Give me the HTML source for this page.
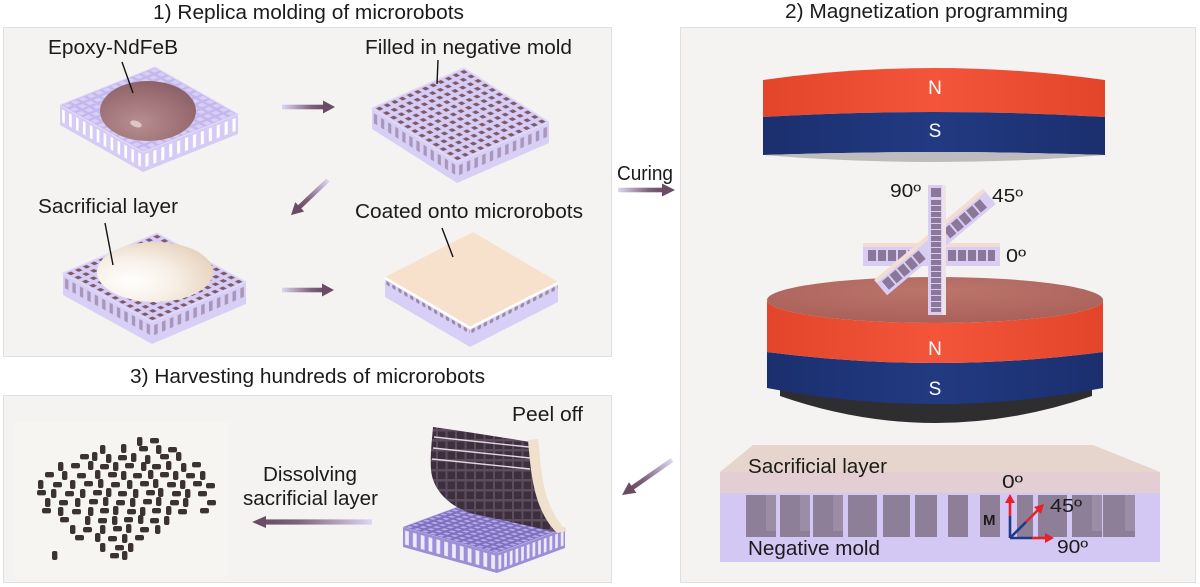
<!DOCTYPE html>
<html><head><meta charset="utf-8"><style>
html,body{margin:0;padding:0;background:#fff;}
svg{display:block;}
text{font-family:"Liberation Sans",Arial,sans-serif;fill:#1b1b1b;}
</style></head><body>
<svg width="1200" height="587" viewBox="0 0 1200 587" xmlns="http://www.w3.org/2000/svg">
<defs>
 <linearGradient id="arr" x1="0" y1="0" x2="1" y2="0">
  <stop offset="0" stop-color="#ddd6f3"/><stop offset="0.7" stop-color="#7d6079"/><stop offset="1" stop-color="#6a4d65"/>
 </linearGradient>
 <radialGradient id="epoxy" cx="0.4" cy="0.7" r="0.7">
  <stop offset="0" stop-color="#b88e91"/><stop offset="0.6" stop-color="#9f7377"/><stop offset="1" stop-color="#8e6368"/>
 </radialGradient>
 <radialGradient id="sacr" cx="0.3" cy="0.65" r="0.75">
  <stop offset="0" stop-color="#ffffff"/><stop offset="0.5" stop-color="#f7efe6"/><stop offset="1" stop-color="#e6d3bd"/>
 </radialGradient>
 <linearGradient id="red" x1="0" y1="0" x2="1" y2="0">
  <stop offset="0" stop-color="#e2452a"/><stop offset="0.5" stop-color="#f4553a"/><stop offset="1" stop-color="#e2452a"/>
 </linearGradient>
 <linearGradient id="blue" x1="0" y1="0" x2="1" y2="0">
  <stop offset="0" stop-color="#1b2f6e"/><stop offset="0.5" stop-color="#223a82"/><stop offset="1" stop-color="#1b2f6e"/>
 </linearGradient>
 <radialGradient id="topface" cx="0.5" cy="0.3" r="0.7">
  <stop offset="0" stop-color="#bc756b"/><stop offset="1" stop-color="#a9615a"/>
 </radialGradient>
 <pattern id="g1" width="8.333" height="8.333" patternUnits="userSpaceOnUse">
  <rect width="8.333" height="8.333" fill="#c4b7ee"/><rect x="1.6" y="1.6" width="5.2" height="5.2" fill="#d8cff6"/>
 </pattern>
 <pattern id="g2" width="8.333" height="8.333" patternUnits="userSpaceOnUse">
  <rect width="8.333" height="8.333" fill="#d6ccf5"/><rect x="2.2" y="2.2" width="4.2" height="4.2" fill="#7e5966"/>
 </pattern>
 <pattern id="g3" width="8.333" height="8.333" patternUnits="userSpaceOnUse">
  <rect width="8.333" height="8.333" fill="#7f6fbf"/><rect x="1.8" y="1.8" width="4.8" height="4.8" fill="#b5a9e8"/>
 </pattern>
 <pattern id="s1" width="8.333" height="100" patternUnits="userSpaceOnUse">
  <rect width="8.333" height="100" fill="#d5cbf5"/><rect x="2.6" y="3" width="3.2" height="13" fill="#ffffff"/>
 </pattern>
 <pattern id="s2" width="8.333" height="100" patternUnits="userSpaceOnUse">
  <rect width="8.333" height="100" fill="#d8cff6"/><rect x="2.3" y="4" width="3.8" height="10" fill="#a897b8"/>
 </pattern>
 <pattern id="s4" width="7" height="100" patternUnits="userSpaceOnUse">
  <rect width="7" height="100" fill="#d8cff6"/><rect x="1.5" y="3" width="4" height="4" rx="1.5" fill="#9d8aa8"/>
 </pattern>
 <pattern id="s3" width="8.333" height="100" patternUnits="userSpaceOnUse">
  <rect width="8.333" height="100" fill="#9d8fd6"/><rect x="2.2" y="3" width="4" height="14" fill="#eeeafb"/>
 </pattern>
 <pattern id="cubes" width="9.5" height="10" patternUnits="userSpaceOnUse">
  <rect width="9.5" height="10" fill="#5c4c5d"/><rect x="1" y="1.5" width="7.5" height="7.5" fill="#3d2f3e"/>
 </pattern>
 <rect id="ph" width="9" height="5.4" rx="2" fill="#3b3234"/>
 <rect id="pv" width="5.4" height="9" rx="2" fill="#3b3234"/>
</defs>

<rect width="1200" height="587" fill="#ffffff"/>

<!-- Panels -->
<rect x="3.5" y="27.5" width="608" height="329" fill="#f4f3f1" stroke="#e2e0de"/>
<rect x="680.5" y="27.5" width="515" height="555" fill="#f4f3f1" stroke="#e2e0de"/>
<rect x="3.5" y="395.5" width="608" height="187" fill="#f4f3f1" stroke="#e2e0de"/>

<!-- Titles -->
<text x="153" y="19" font-size="20" textLength="311" lengthAdjust="spacingAndGlyphs">1) Replica molding of microrobots</text>
<text x="785" y="18" font-size="20" textLength="283" lengthAdjust="spacingAndGlyphs">2) Magnetization programming</text>
<text x="130" y="383" font-size="20" textLength="355" lengthAdjust="spacingAndGlyphs">3) Harvesting hundreds of microrobots</text>

<!-- ===== Panel 1 ===== -->
<g>
 <g transform="matrix(0.83,0.47,0,1,60,105)"><rect width="100" height="20" fill="url(#s1)"/></g>
 <g transform="matrix(0.95,-0.38,0,1,143,152)"><rect width="100" height="20" fill="url(#s1)"/></g>
 <g transform="matrix(0.95,-0.38,0.83,0.47,60,105)"><rect width="100" height="100" fill="url(#g1)" stroke="#e3dcf8" stroke-width="1.5"/></g>
 <ellipse cx="148" cy="111" rx="48" ry="30" fill="url(#epoxy)"/>
 <ellipse cx="136" cy="124" rx="6" ry="3" fill="#e8d6d6" opacity="0.8" transform="rotate(20 136 124)"/>
</g>
<text x="48" y="54" font-size="20" textLength="130" lengthAdjust="spacingAndGlyphs">Epoxy-NdFeB</text>
<line x1="122" y1="62" x2="133" y2="93" stroke="#111" stroke-width="1.4"/>

<g transform="translate(282,107)"><rect x="0" y="-2.3" width="43" height="4.6" fill="url(#arr)"/><path d="M41,-6.5 L53,0 L41,6.5 Z" fill="#6a4d65"/></g>

<g>
 <g transform="matrix(0.85,0.54,0,1,372,108)"><rect width="100" height="21" fill="url(#s2)"/></g>
 <g transform="matrix(0.92,-0.40,0,1,457,162)"><rect width="100" height="21" fill="url(#s2)"/></g>
 <g transform="matrix(0.92,-0.40,0.85,0.54,372,108)"><rect width="100" height="100" fill="url(#g2)" stroke="#e3dcf8" stroke-width="1.5"/></g>
</g>
<text x="365" y="54" font-size="20" textLength="207" lengthAdjust="spacingAndGlyphs">Filled in negative mold</text>
<line x1="438" y1="60" x2="437" y2="84" stroke="#111" stroke-width="1.4"/>

<g transform="translate(328,180) rotate(136.5)"><rect x="0" y="-2.3" width="41" height="4.6" fill="url(#arr)"/><path d="M39,-6.5 L51,0 L39,6.5 Z" fill="#6a4d65"/></g>

<g>
 <g transform="matrix(0.89,0.49,0,1,63,273)"><rect width="100" height="22" fill="url(#s2)"/></g>
 <g transform="matrix(0.94,-0.40,0,1,152,322)"><rect width="100" height="22" fill="url(#s2)"/></g>
 <g transform="matrix(0.94,-0.40,0.89,0.49,63,273)"><rect width="100" height="100" fill="url(#g2)" stroke="#e3dcf8" stroke-width="1.5"/></g>
 <ellipse cx="155" cy="272" rx="58" ry="30" fill="url(#sacr)"/>
</g>
<text x="38" y="213" font-size="20" textLength="140" lengthAdjust="spacingAndGlyphs">Sacrificial layer</text>
<line x1="105" y1="223" x2="113" y2="265" stroke="#111" stroke-width="1.4"/>

<g transform="translate(282,290)"><rect x="0" y="-2.3" width="42" height="4.6" fill="url(#arr)"/><path d="M40,-6.5 L52,0 L40,6.5 Z" fill="#6a4d65"/></g>

<g>
 <g transform="matrix(0.85,0.50,0,1,385,277)"><rect width="100" height="20" fill="url(#s4)"/></g>
 <g transform="matrix(0.88,-0.45,0,1,470,327)"><rect width="100" height="20" fill="url(#s4)"/></g>
 <polygon points="385,277 473,232 558,282 470,327" fill="#f7e1cd"/>
 <polyline points="385,278 470,328 558,283" fill="none" stroke="#ffffff" stroke-width="2.5"/>
</g>
<text x="355" y="218" font-size="20" textLength="228" lengthAdjust="spacingAndGlyphs">Coated onto microrobots</text>
<line x1="442" y1="228" x2="453" y2="257" stroke="#111" stroke-width="1.4"/>

<text x="617" y="180" font-size="20" textLength="56" lengthAdjust="spacingAndGlyphs">Curing</text>
<g transform="translate(618,190)"><rect x="0" y="-2.3" width="45" height="4.6" fill="url(#arr)"/><path d="M44,-6.5 L57,0 L44,6.5 Z" fill="#6a4d65"/></g>

<!-- ===== Panel 2 ===== -->
<path d="M763,80 Q934,56 1105,80 L1105,117 Q934,107 763,117 Z" fill="url(#red)"/>
<path d="M763,117 Q934,107 1105,117 L1105,155 Q934,149 763,155 Z" fill="url(#blue)"/>
<path d="M763,155 Q934,149 1105,155 Q934,169 763,155 Z" fill="#bdbcbc"/>
<text x="935" y="94" font-size="19" text-anchor="middle" style="fill:#fff">N</text>
<text x="935" y="137" font-size="19" text-anchor="middle" style="fill:#fff">S</text>

<path d="M780,388 L1092,388 L1092,396 Q935,450 780,396 Z" fill="#2e2d30"/>
<path d="M767,352 Q935,374 1103,352 L1103,388 Q935,420 767,388 Z" fill="url(#blue)"/>
<path d="M767,300 A168,23 0 0 0 1103,300 L1103,352 Q935,374 767,352 Z" fill="url(#red)"/>
<ellipse cx="935" cy="300" rx="168" ry="23" fill="url(#topface)"/>
<text x="935" y="355" font-size="19" text-anchor="middle" style="fill:#fff">N</text>
<text x="935" y="395" font-size="19" text-anchor="middle" style="fill:#fff">S</text>

<g>
 <rect x="863" y="243" width="137" height="23" fill="#d9cdf4"/>
 <rect x="863" y="243" width="137" height="4" fill="#f3ddd2"/>
 <g fill="#8b7898">
  <rect x="868" y="250" width="8" height="11"/><rect x="878" y="250" width="8" height="11"/><rect x="888" y="250" width="8" height="11"/><rect x="898" y="250" width="8" height="11"/><rect x="908" y="250" width="8" height="11"/><rect x="918" y="250" width="8" height="11"/>
  <rect x="948" y="250" width="8" height="11"/><rect x="958" y="250" width="8" height="11"/><rect x="968" y="250" width="8" height="11"/><rect x="978" y="250" width="8" height="11"/><rect x="988" y="250" width="7" height="11"/>
 </g>
</g>
<g transform="translate(935,242) rotate(-40)">
 <rect x="-71" y="-10" width="142" height="20" fill="#d9cdf4"/>
 <rect x="-71" y="-10" width="142" height="4" fill="#f3ddd2"/>
 <g fill="#8b7898">
  <rect x="-66" y="-4" width="8" height="11"/><rect x="-56" y="-4" width="8" height="11"/><rect x="-46" y="-4" width="8" height="11"/><rect x="-36" y="-4" width="8" height="11"/><rect x="-26" y="-4" width="8" height="11"/>
  <rect x="14" y="-4" width="8" height="11"/><rect x="24" y="-4" width="8" height="11"/><rect x="34" y="-4" width="8" height="11"/><rect x="44" y="-4" width="8" height="11"/><rect x="54" y="-4" width="8" height="11"/>
 </g>
</g>
<g>
 <rect x="928" y="185" width="18" height="130" fill="#d9cdf4"/>
 <rect x="942" y="185" width="4" height="130" fill="#efe2e6"/>
 <g fill="#8b7898">
  <rect x="931" y="188" width="10" height="9"/><rect x="931" y="200" width="10" height="5"/><rect x="931" y="206" width="10" height="5"/><rect x="931" y="212" width="10" height="5"/><rect x="931" y="218" width="10" height="5"/><rect x="931" y="224" width="10" height="5"/><rect x="931" y="230" width="10" height="5"/><rect x="931" y="236" width="10" height="5"/><rect x="931" y="242" width="10" height="5"/><rect x="931" y="248" width="10" height="5"/><rect x="931" y="254" width="10" height="5"/><rect x="931" y="260" width="10" height="5"/><rect x="931" y="266" width="10" height="5"/><rect x="931" y="272" width="10" height="5"/><rect x="931" y="278" width="10" height="5"/><rect x="931" y="284" width="10" height="5"/><rect x="931" y="290" width="10" height="5"/><rect x="931" y="296" width="10" height="5"/><rect x="931" y="302" width="10" height="5"/><rect x="931" y="308" width="10" height="4"/>
 </g>
</g>
<text x="890" y="197" font-size="18" textLength="31" lengthAdjust="spacingAndGlyphs">90º</text>
<text x="992" y="202" font-size="18" textLength="31" lengthAdjust="spacingAndGlyphs">45º</text>
<text x="1006" y="262" font-size="18" textLength="20" lengthAdjust="spacingAndGlyphs">0º</text>

<polygon points="753,445 1093,445 1160,472 720,472" fill="#e6d5cc"/>
<rect x="720" y="472" width="440" height="21" fill="#e3cfd3"/>
<rect x="720" y="493" width="440" height="69" fill="#d3c7f3"/>
<g fill="#8e7f99">
 <rect x="746" y="495" width="30" height="42"/><rect x="780" y="495" width="30" height="42"/><rect x="813" y="495" width="30" height="42"/><rect x="848" y="495" width="29" height="42"/><rect x="883" y="495" width="27" height="42"/><rect x="915" y="495" width="22" height="42"/><rect x="948" y="495" width="20" height="42"/><rect x="980" y="495" width="20" height="42"/><rect x="1017" y="495" width="16" height="42"/><rect x="1038" y="495" width="29" height="42"/><rect x="1072" y="495" width="30" height="42"/><rect x="1103" y="495" width="32" height="42"/>
</g>
<g fill="#a394ad" opacity="0.7">
 <rect x="766" y="495" width="10" height="36"/><rect x="800" y="495" width="10" height="36"/><rect x="833" y="495" width="10" height="36"/><rect x="1092" y="495" width="10" height="36"/><rect x="1125" y="495" width="10" height="36"/>
</g>
<text x="748" y="473" font-size="20" textLength="139" lengthAdjust="spacingAndGlyphs">Sacrificial layer</text>
<text x="748" y="555" font-size="20" textLength="132" lengthAdjust="spacingAndGlyphs">Negative mold</text>
<g stroke-width="2.6" fill="none">
 <line x1="1010" y1="538" x2="1010" y2="516" stroke="#1f3a8a"/>
 <line x1="1010" y1="516" x2="1010" y2="500" stroke="#e8202a"/>
 <line x1="1010" y1="538" x2="1026" y2="522" stroke="#1f3a8a"/>
 <line x1="1026" y1="522" x2="1040" y2="508" stroke="#e8202a"/>
 <line x1="1010" y1="538" x2="1032" y2="538" stroke="#1f3a8a"/>
 <line x1="1032" y1="538" x2="1048" y2="538" stroke="#e8202a"/>
</g>
<g fill="#e8202a">
 <path d="M1010,494 L1005,503 L1015,503 Z"/>
 <path d="M1044,504 L1034,507 L1041,514 Z"/>
 <path d="M1054,538 L1045,533 L1045,543 Z"/>
</g>
<text x="983" y="525" font-size="15" font-weight="bold">M</text>
<text x="1002" y="488" font-size="18" textLength="21" lengthAdjust="spacingAndGlyphs">0º</text>
<text x="1050" y="512" font-size="18" textLength="32" lengthAdjust="spacingAndGlyphs">45º</text>
<text x="1057" y="553" font-size="18" textLength="31" lengthAdjust="spacingAndGlyphs">90º</text>

<g transform="translate(672,460) rotate(145)"><rect x="0" y="-2.3" width="50" height="4.6" fill="url(#arr)"/><path d="M48,-6.5 L61,0 L48,6.5 Z" fill="#6a4d65"/></g>

<!-- ===== Panel 3 ===== -->
<rect x="15" y="422" width="213" height="155" fill="#f7f5f2"/>
<g>
 <use href="#pv" x="137" y="437"/><use href="#ph" x="150" y="438"/>
 <use href="#pv" x="100" y="445"/><use href="#pv" x="121" y="444"/><use href="#ph" x="139" y="446"/><use href="#pv" x="156" y="445"/><use href="#ph" x="168" y="447"/>
 <use href="#ph" x="80" y="454"/><use href="#pv" x="92" y="452"/><use href="#pv" x="106" y="454"/><use href="#ph" x="118" y="455"/><use href="#pv" x="131" y="453"/><use href="#pv" x="145" y="455"/><use href="#ph" x="160" y="454"/><use href="#pv" x="176" y="452"/>
 <use href="#pv" x="58" y="462"/><use href="#ph" x="71" y="463"/><use href="#pv" x="88" y="461"/><use href="#ph" x="100" y="464"/><use href="#pv" x="113" y="462"/><use href="#ph" x="125" y="463"/><use href="#pv" x="141" y="462"/><use href="#ph" x="152" y="464"/><use href="#pv" x="166" y="461"/><use href="#pv" x="181" y="463"/><use href="#ph" x="192" y="462"/>
 <use href="#ph" x="45" y="472"/><use href="#pv" x="62" y="471"/><use href="#ph" x="77" y="473"/><use href="#pv" x="95" y="470"/><use href="#ph" x="108" y="472"/><use href="#pv" x="121" y="471"/><use href="#ph" x="133" y="473"/><use href="#pv" x="148" y="470"/><use href="#ph" x="160" y="472"/><use href="#pv" x="173" y="471"/><use href="#ph" x="186" y="473"/><use href="#pv" x="200" y="471"/>
 <use href="#pv" x="38" y="480"/><use href="#ph" x="53" y="482"/><use href="#pv" x="70" y="480"/><use href="#ph" x="84" y="481"/><use href="#pv" x="98" y="479"/><use href="#ph" x="111" y="482"/><use href="#pv" x="127" y="480"/><use href="#ph" x="140" y="481"/><use href="#pv" x="153" y="479"/><use href="#ph" x="167" y="482"/><use href="#pv" x="180" y="480"/><use href="#ph" x="193" y="481"/><use href="#ph" x="206" y="483"/>
 <use href="#ph" x="37" y="490"/><use href="#pv" x="51" y="489"/><use href="#ph" x="65" y="491"/><use href="#pv" x="80" y="489"/><use href="#ph" x="93" y="490"/><use href="#pv" x="106" y="488"/><use href="#ph" x="118" y="491"/><use href="#pv" x="133" y="489"/><use href="#ph" x="146" y="490"/><use href="#pv" x="158" y="488"/><use href="#ph" x="172" y="491"/><use href="#pv" x="185" y="489"/><use href="#ph" x="198" y="491"/>
 <use href="#pv" x="45" y="498"/><use href="#ph" x="59" y="500"/><use href="#pv" x="75" y="498"/><use href="#ph" x="89" y="499"/><use href="#pv" x="103" y="497"/><use href="#ph" x="116" y="500"/><use href="#pv" x="130" y="498"/><use href="#ph" x="143" y="499"/><use href="#pv" x="156" y="497"/><use href="#ph" x="170" y="500"/><use href="#pv" x="183" y="498"/><use href="#ph" x="207" y="500"/>
 <use href="#ph" x="42" y="508"/><use href="#pv" x="58" y="507"/><use href="#ph" x="72" y="509"/><use href="#pv" x="88" y="507"/><use href="#ph" x="100" y="508"/><use href="#pv" x="113" y="506"/><use href="#ph" x="127" y="509"/><use href="#pv" x="140" y="507"/><use href="#ph" x="152" y="508"/><use href="#pv" x="166" y="506"/><use href="#ph" x="178" y="509"/><use href="#ph" x="200" y="508"/>
 <use href="#ph" x="60" y="517"/><use href="#pv" x="85" y="516"/><use href="#ph" x="98" y="518"/><use href="#pv" x="112" y="516"/><use href="#ph" x="124" y="517"/><use href="#pv" x="138" y="515"/><use href="#ph" x="150" y="518"/><use href="#pv" x="164" y="516"/>
 <use href="#pv" x="70" y="525"/><use href="#ph" x="83" y="527"/><use href="#pv" x="100" y="525"/><use href="#ph" x="113" y="526"/><use href="#pv" x="126" y="524"/><use href="#ph" x="140" y="527"/><use href="#pv" x="155" y="525"/>
 <use href="#ph" x="75" y="535"/><use href="#pv" x="95" y="533"/><use href="#ph" x="108" y="536"/><use href="#pv" x="122" y="534"/><use href="#ph" x="135" y="535"/>
 <use href="#pv" x="100" y="543"/><use href="#ph" x="115" y="545"/><use href="#pv" x="128" y="543"/>
 <use href="#pv" x="52" y="551"/><use href="#ph" x="110" y="553"/><use href="#pv" x="122" y="551"/>
</g>

<text x="263" y="481" font-size="20" textLength="94" lengthAdjust="spacingAndGlyphs">Dissolving</text>
<text x="243" y="505" font-size="20" textLength="135" lengthAdjust="spacingAndGlyphs">sacrificial layer</text>
<g transform="translate(372,522) rotate(180)"><rect x="0" y="-2.6" width="108" height="5.2" fill="url(#arr)"/><path d="M106,-6 L120,0 L106,6 Z" fill="#6a4d65"/></g>

<g>
 <g transform="matrix(0.94,0.26,0,1,403,527)"><rect width="100" height="20" fill="url(#s3)"/></g>
 <g transform="matrix(0.68,-0.25,0,1,497,553)"><rect width="100" height="20" fill="url(#s3)"/></g>
 <g transform="matrix(0.68,-0.25,0.94,0.26,403,527)"><rect width="100" height="100" fill="url(#g3)" stroke="#c9bff0" stroke-width="1"/></g>
 <path d="M433,427 C455,430 500,437 530,442 C531,475 535,505 556,532 L470,513 C448,505 433,490 431,470 C430,455 432,440 433,427 Z" fill="url(#cubes)"/>
 <g stroke="#e2d9e0" stroke-width="1.4" fill="none">
  <path d="M434,437 L529,447"/><path d="M433,448 L530,458"/><path d="M432,459 L530,469"/>
 </g>
 <path d="M528,440 L538,439 C542,470 541,505 567,531 L557,533 C534,510 531,475 528,440 Z" fill="#efe1cd"/>
</g>
<text x="512" y="421" font-size="20" textLength="71" lengthAdjust="spacingAndGlyphs">Peel off</text>
</svg>
</body></html>
